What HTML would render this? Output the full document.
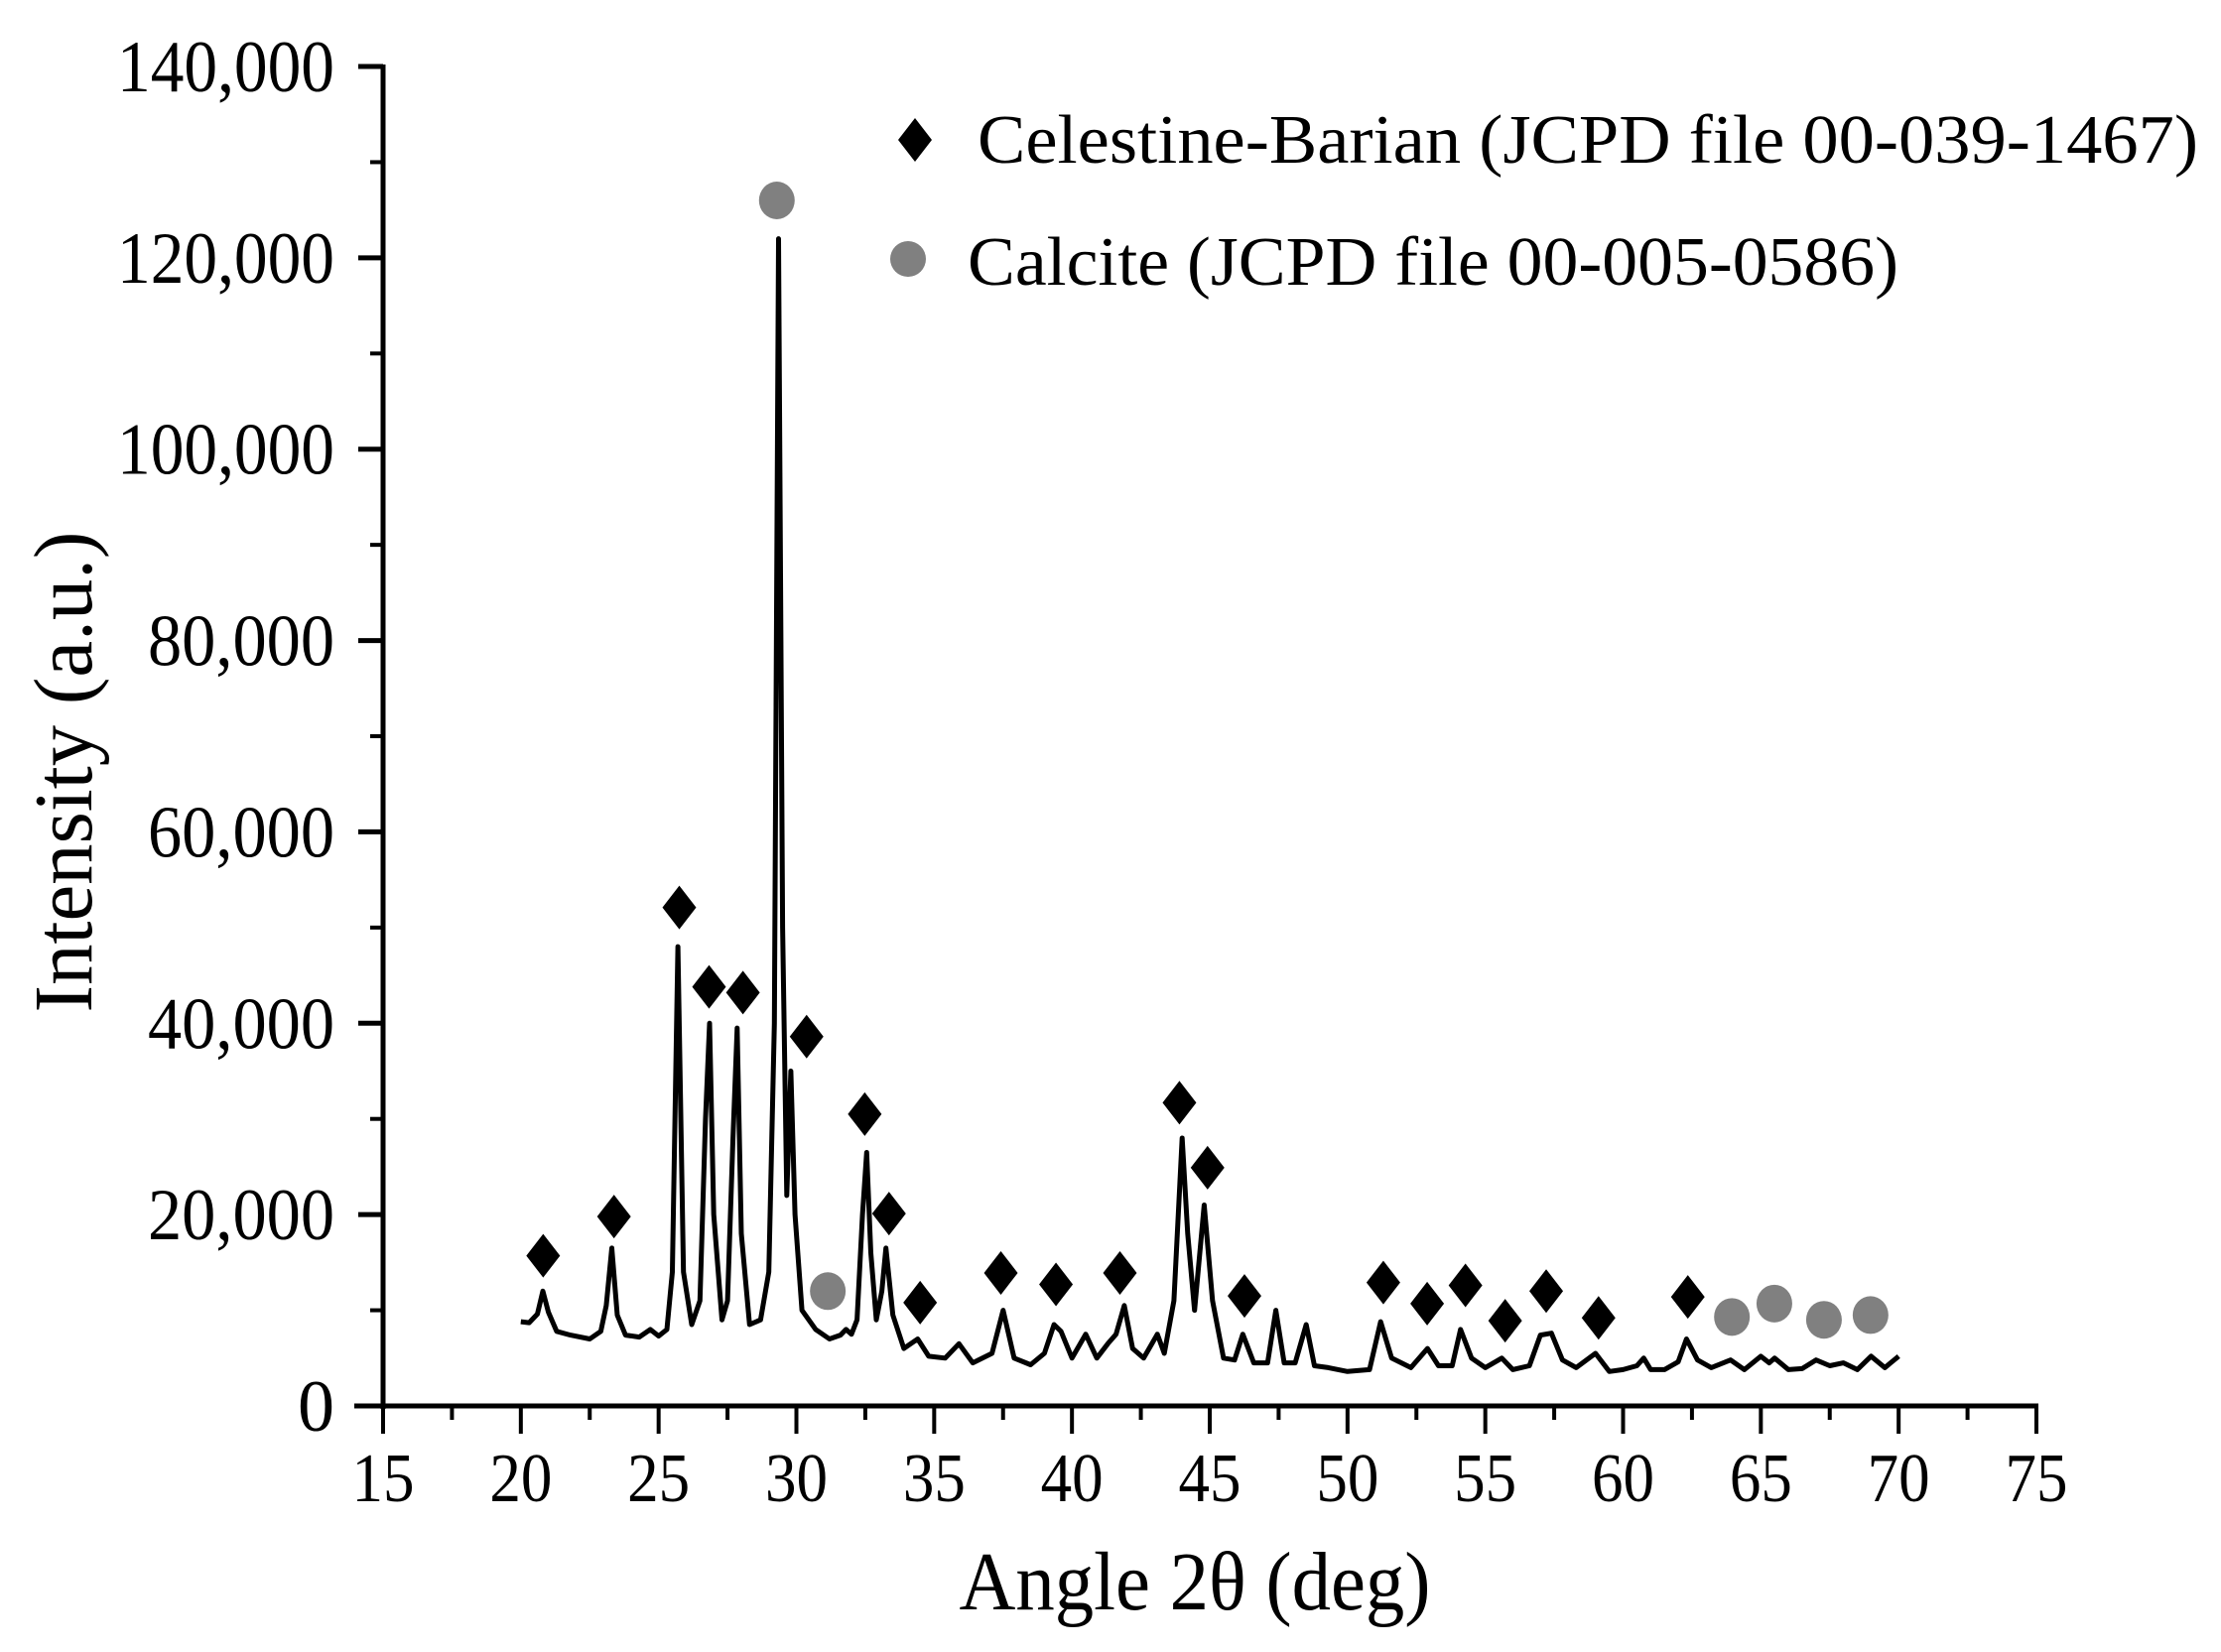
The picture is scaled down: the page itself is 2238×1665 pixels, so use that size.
<!DOCTYPE html>
<html><head><meta charset="utf-8"><style>
html,body{margin:0;padding:0;background:#fff}
svg{display:block}
text{font-family:"Liberation Serif",serif;fill:#000}
</style></head><body>
<svg id="chart" width="2238" height="1665" viewBox="0 0 2238 1665" xmlns="http://www.w3.org/2000/svg">
<g id="axes"></g>
<g id="series"></g>
<g id="markers"></g>
<text x="1204" y="1622" font-size="84" text-anchor="middle" textLength="475" lengthAdjust="spacingAndGlyphs">Angle 2θ (deg)</text>
<text transform="translate(92,778) rotate(-90)" font-size="84" text-anchor="middle" textLength="485" lengthAdjust="spacingAndGlyphs">Intensity (a.u.)</text>
<g>
<polygon points="922,119 939,141 922,163 905,141" fill="#000"/>
<text x="985" y="164" font-size="70" textLength="1230" lengthAdjust="spacingAndGlyphs">Celestine-Barian (JCPD file 00-039-1467)</text>
<circle cx="915" cy="261" r="18" fill="#808080"/>
<text x="975" y="287" font-size="70" textLength="938" lengthAdjust="spacingAndGlyphs">Calcite (JCPD file 00-005-0586)</text>
</g>
</svg>
<script>
const angles=[20,20.3,20.6,20.8,21.0,21.3,21.8,22.5,22.9,23.1,23.3,23.5,23.8,24.3,24.7,25.0,25.3,25.5,25.7,25.9,26.2,26.5,26.7,26.85,27.0,27.3,27.5,27.7,27.85,28.0,28.3,28.7,29.0,29.2,29.35,29.5,29.65,29.8,29.95,30.2,30.7,31.2,31.6,31.8,32.0,32.2,32.4,32.55,32.7,32.9,33.1,33.25,33.5,33.9,34.4,34.8,35.4,35.9,36.4,37.1,37.5,37.9,38.5,39.0,39.35,39.6,40.0,40.5,40.9,41.3,41.6,41.9,42.2,42.6,43.1,43.35,43.7,44.0,44.2,44.45,44.8,45.1,45.5,45.9,46.2,46.6,47.1,47.4,47.7,48.1,48.5,48.8,49.3,50.0,50.8,51.2,51.6,52.3,52.9,53.3,53.8,54.1,54.5,55.0,55.6,56.0,56.6,57.0,57.4,57.8,58.3,59.0,59.5,60.0,60.5,60.75,61.0,61.5,62.0,62.3,62.7,63.2,63.9,64.4,65.0,65.3,65.5,66.0,66.5,67.0,67.5,68.0,68.5,69.0,69.5,70.0];
const intensity=[8800,8700,9600,12000,9800,7800,7400,7000,7800,10500,16500,9500,7400,7200,8000,7300,8000,14000,48000,14000,8500,11000,30000,40000,20000,9000,11000,28000,39500,18000,8500,9000,14000,40000,122000,50000,22000,35000,20000,10000,8000,7000,7400,8000,7500,9000,20000,26500,16000,9000,12000,16500,9500,6000,7000,5200,5000,6500,4500,5500,10000,5000,4300,5500,8500,7800,5000,7500,5000,6500,7500,10500,6000,5000,7500,5500,11000,28000,18000,10000,21000,11000,5000,4800,7500,4500,4500,10000,4500,4500,8500,4200,4000,3600,3800,8800,5000,4000,6000,4200,4200,8000,5000,4000,5000,3800,4200,7400,7600,4800,4000,5500,3600,3800,4200,5000,3800,3800,4600,7000,4800,4000,4800,3800,5200,4500,5000,3800,3900,4800,4200,4500,3800,5200,4000,5200];
const diamondAngles=[20.81,23.38,25.75,26.83,28.06,30.37,32.48,33.36,34.49,37.42,39.42,41.74,43.9,44.92,46.26,51.3,52.89,54.28,55.72,57.21,59.11,62.35];
const diamondHeights=[15700,19800,52100,43800,43200,38600,30500,20100,10800,13900,12700,13900,31700,24900,11500,12900,10700,12600,8900,12000,9200,11400];
const circleAngles=[29.29,31.14,63.95,65.49,67.29,68.98];
const circleHeights=[126000,12000,9300,10700,9000,9500];
const xTicks=[15,20,25,30,35,40,45,50,55,60,65,70,75];
const yTicks=[0,20000,40000,60000,80000,100000,120000,140000];
const yTickLabels=["0","20,000","40,000","60,000","80,000","100,000","120,000","140,000"];

const X0=386,X1=2052,Y0=1417,Y1=67;
function sx(a){return X0+(a-15)/60*(X1-X0);}
function sy(v){return Y0-v/140000*(Y0-Y1);}
const NS="http://www.w3.org/2000/svg";
function mk(tag,parent,attrs){const e=document.createElementNS(NS,tag);for(const k in attrs)e.setAttribute(k,attrs[k]);parent.appendChild(e);return e;}
const axes=document.getElementById('axes');
let l=mk('line',axes,{x1:X0,y1:Y1-2,x2:X0,y2:Y0+3,stroke:'#000','stroke-width':5});


l=mk('line',axes,{x1:357,y1:Y0,x2:X1+2,y2:Y0,stroke:'#000','stroke-width':5});


yTicks.forEach((v,i)=>{
  const t=mk('line',axes,{x1:X0-25,y1:sy(v),x2:X0,y2:sy(v),stroke:'#000','stroke-width':5});
  
  
  const lab=yTickLabels[i];
  const attrs={x:337,y:sy(v)+25,'font-size':74,'text-anchor':'end'};
  if(lab.length>1){attrs.textLength=lab.length===7?219:188;attrs.lengthAdjust='spacingAndGlyphs';}
  const tx=mk('text',axes,attrs);
  tx.textContent=lab;
  
  
  if(i<yTicks.length-1){
    const m=mk('line',axes,{x1:X0-13,y1:sy(v+10000),x2:X0,y2:sy(v+10000),stroke:'#000','stroke-width':4});
    
    
  }
});
xTicks.forEach((a,i)=>{
  const t=mk('line',axes,{x1:sx(a),y1:Y0,x2:sx(a),y2:Y0+28,stroke:'#000','stroke-width':4});
  
  
  const tx=mk('text',axes,{x:sx(a),y:1513,'font-size':70,'text-anchor':'middle',textLength:63,lengthAdjust:'spacingAndGlyphs'});
  tx.textContent=String(a);
  
  
  if(i<xTicks.length-1){
    const m=mk('line',axes,{x1:sx(a+2.5),y1:Y0,x2:sx(a+2.5),y2:Y0+14,stroke:'#000','stroke-width':4});
    
    
  }
});
const series=document.getElementById('series');
const d=angles.map((a,i)=>(i?'L':'M')+sx(a).toFixed(1)+','+sy(intensity[i]).toFixed(1)).join(' ');
const p=mk('path',series,{d:d,fill:'none',stroke:'#000','stroke-width':5,'stroke-linejoin':'round'});


const markers=document.getElementById('markers');
diamondAngles.forEach((a,i)=>{
  const cx=sx(a),cy=sy(diamondHeights[i]);
  const g=mk('polygon',markers,{points:`${cx},${cy-22} ${cx+17},${cy} ${cx},${cy+22} ${cx-17},${cy}`,fill:'#000'});
  
  
});
circleAngles.forEach((a,i)=>{
  const c=mk('ellipse',markers,{cx:sx(a),cy:sy(circleHeights[i]),rx:18,ry:19,fill:'#808080'});
  
  
});
</script>
</body></html>
